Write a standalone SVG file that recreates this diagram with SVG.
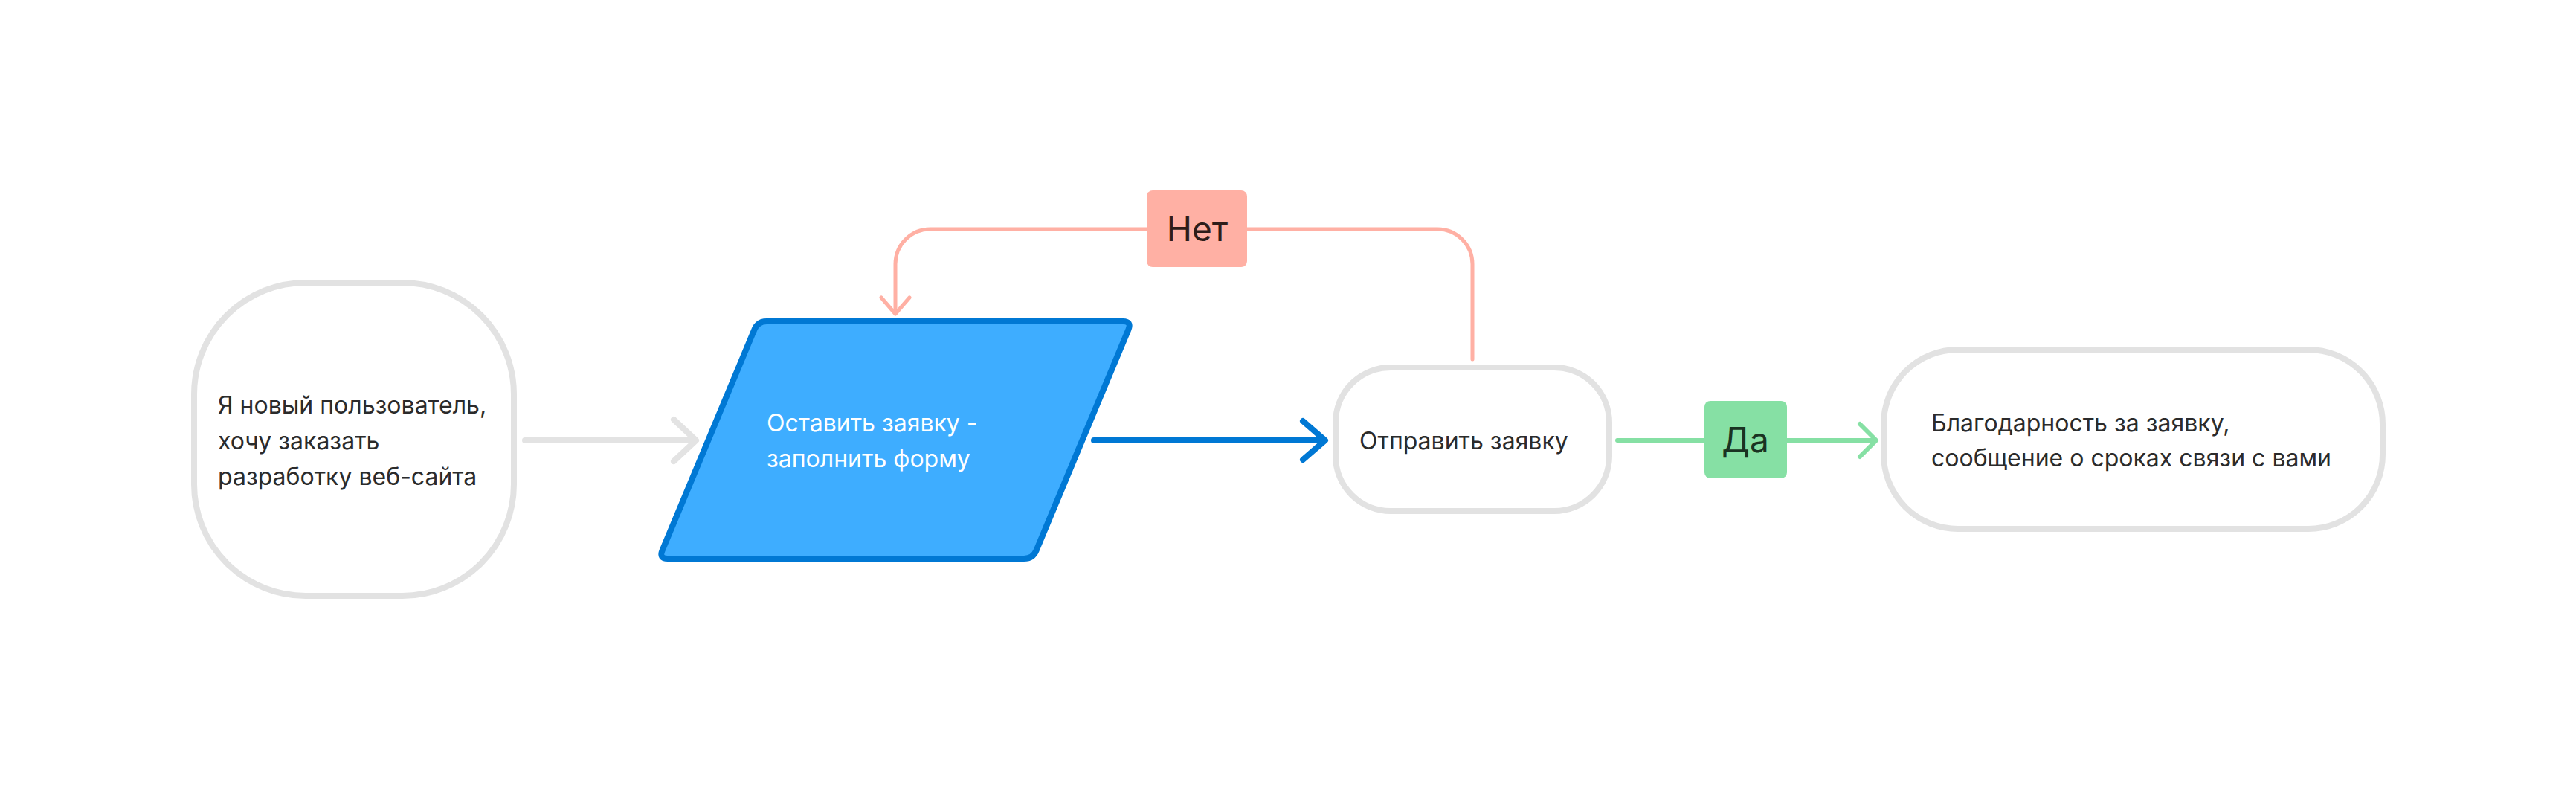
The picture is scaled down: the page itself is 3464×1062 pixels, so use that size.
<svg xmlns="http://www.w3.org/2000/svg" width="3464" height="1062" viewBox="0 0 3464 1062">
<style>
.node{fill:#ffffff;stroke:#e2e2e2;stroke-width:8}
.txt{font-family:Inter,"Noto Sans","Liberation Sans",sans-serif;font-size:32px;fill:#2b2b2b}
.wtxt{font-family:Inter,"Noto Sans","Liberation Sans",sans-serif;font-size:32px;fill:#ffffff}
.lbl{font-family:Inter,"Noto Sans","Liberation Sans",sans-serif;font-size:46px;text-anchor:middle}
.c{fill:none;stroke-linecap:round;stroke-linejoin:round}
</style>
<rect width="3464" height="1062" fill="#ffffff"/>
<g id="connectors">
  <g id="c1">
    <path class="c" d="M706,592 L934,592 M906,564 L936,592 L906,620" stroke="#e3e3e3" stroke-width="8"/>
  </g>
  <g id="c2">
    <path class="c" d="M1471,592 L1780,592 M1752,566 L1782,592 L1752,618" stroke="#0078d4" stroke-width="8"/>
  </g>
  <g id="c3">
    <path class="c" d="M1980,483 L1980,355 A47,47 0 0 0 1933,308 L1251,308 A47,47 0 0 0 1204,355 L1204,421 M1185,400 L1204,422 L1223,400" stroke="#ffb0a4" stroke-width="5"/>
    <rect x="1542" y="256" width="135" height="103" rx="8" fill="#ffb0a4"/>
    <text class="lbl" x="1610" y="324" fill="#2e1d1a">Нет</text>
  </g>
  <g id="c4">
    <path class="c" d="M2175,592 L2521,592 M2501,570 L2523,592 L2501,614" stroke="#86e0a4" stroke-width="6"/>
    <rect x="2292" y="539" width="111" height="104" rx="8" fill="#86e0a4"/>
    <text class="lbl" x="2347" y="608" fill="#1a3322">Да</text>
  </g>
</g>
<g id="node1">
  <rect class="node" x="261" y="380" width="430" height="421" rx="150" ry="150"/>
  <text class="txt" x="293" y="556">Я новый пользователь,</text>
  <text class="txt" x="293" y="604">хочу заказать</text>
  <text class="txt" x="293" y="652">разработку веб-сайта</text>
</g>
<g id="node2">
  <path d="M1031,432 L1510,432 Q1522,432 1517.4,443.1 L1393.6,739.9 Q1389,751 1377,751 L898,751 Q886,751 890.6,739.9 L1014.4,443.1 Q1019,432 1031,432 Z" fill="#3eadff" stroke="#0078d4" stroke-width="8" stroke-linejoin="round"/>
  <text class="wtxt" x="1031" y="580">Оставить заявку -</text>
  <text class="wtxt" x="1031" y="628">заполнить форму</text>
</g>
<g id="node3">
  <rect class="node" x="1796" y="494" width="368" height="193" rx="74" ry="74"/>
  <text class="txt" x="1828" y="604">Отправить заявку</text>
</g>
<g id="node4">
  <rect class="node" x="2533" y="470" width="671" height="241" rx="100" ry="100"/>
  <text class="txt" x="2597" y="580">Благодарность за заявку,</text>
  <text class="txt" x="2597" y="627">сообщение о сроках связи с вами</text>
</g>
</svg>
